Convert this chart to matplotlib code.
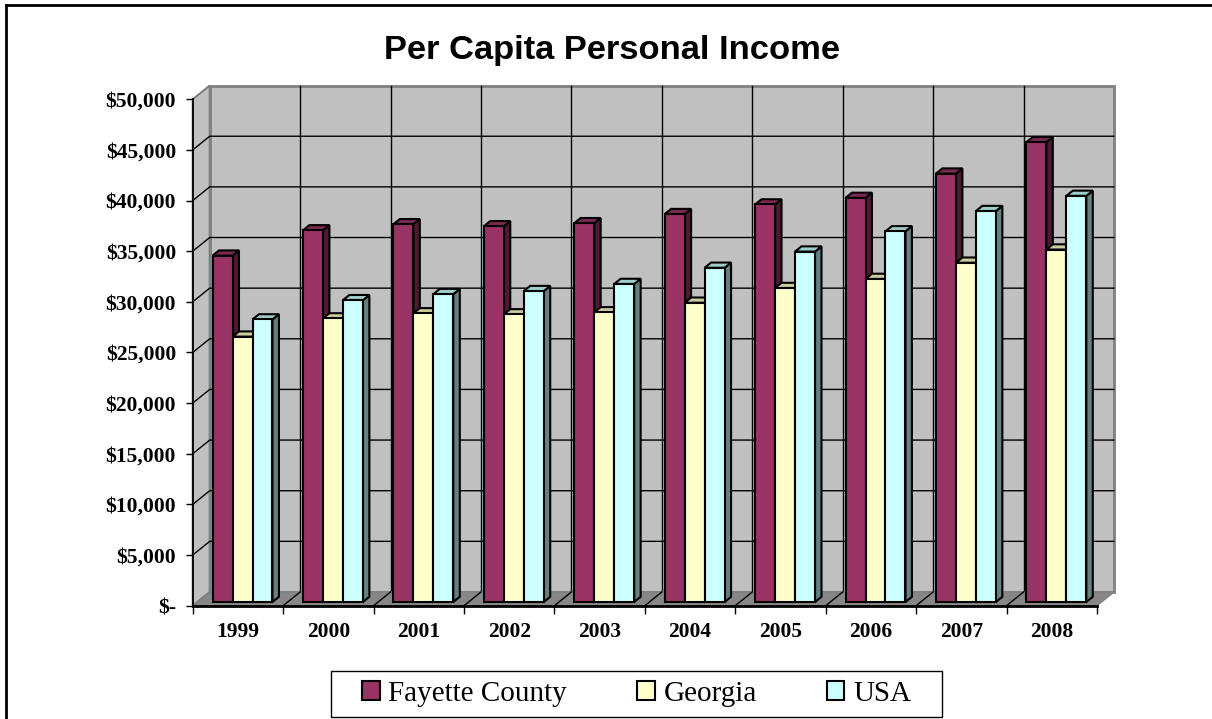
import matplotlib.pyplot as plt
from matplotlib.patches import Polygon, Patch, Rectangle
from matplotlib.lines import Line2D

years = ['1999', '2000', '2001', '2002', '2003', '2004', '2005', '2006', '2007', '2008']
fayette = [34200, 36700, 37300, 37100, 37400, 38300, 39250, 39900, 42300, 45400]
georgia = [26200, 28000, 28500, 28400, 28600, 29550, 31000, 31900, 33500, 34800]
usa = [27900, 29800, 30400, 30700, 31400, 33000, 34600, 36600, 38600, 40100]

# name, values, front / top / side colours
series = [
    ('Fayette County', fayette, '#993366', '#7a2952', '#4d1a33'),
    ('Georgia', georgia, '#ffffcc', '#cccc9f', '#80805f'),
    ('USA', usa, '#ccffff', '#9fcccc', '#668080'),
]

W, H = 1212, 719
fig = plt.figure(figsize=(W / 100, H / 100), dpi=100)
ax_box = [0.159, 0.1576, 0.7461, 0.7043]
ax = fig.add_axes(ax_box)
n = len(years)
ymax = 50000
ax.set_xlim(0, n)
ax.set_ylim(0, ymax)
ax.set_facecolor('none')

# 3d depth offset (pixels) turned into data units
depth_px = (17, 13.7)
ddx = depth_px[0] / (ax_box[2] * W / n)
ddy = depth_px[1] / (ax_box[3] * H / ymax)


def poly(pts, **kw):
    p = Polygon(pts, closed=True, clip_on=False, **kw)
    ax.add_patch(p)
    return p


# walls and floor
poly([(ddx, ddy), (n + ddx, ddy), (n + ddx, ymax + ddy), (ddx, ymax + ddy)],
     facecolor='#c0c0c0', edgecolor='#808080', lw=2, zorder=0)
poly([(0, 0), (ddx, ddy), (ddx, ymax + ddy), (0, ymax)],
     facecolor='#c0c0c0', edgecolor='#808080', lw=1.5, zorder=0)
poly([(0, 0), (n, 0), (n + ddx, ddy), (ddx, ddy)],
     facecolor='#878787', edgecolor='#808080', lw=1, zorder=0.5)

for y in range(5000, ymax, 5000):
    ax.plot([0, ddx, n + ddx], [y, y + ddy, y + ddy], color='black', lw=1,
            zorder=0.3, clip_on=False)
for i in range(1, n):
    ax.plot([i + ddx, i + ddx], [ddy, ymax + ddy], color='black', lw=1,
            zorder=0.3, clip_on=False)
    ax.plot([i, i + ddx], [0, ddy], color='black', lw=1, zorder=0.6, clip_on=False)

# bars
d0, d1 = 0.27, 0.65
bw = 0.221
gap = (1 - 3 * bw) / 2
bx, by = (d1 - d0) * ddx, (d1 - d0) * ddy
z = 1
for i in range(n):
    for j, (name, vals, cf, ct, cs) in enumerate(series):
        x0 = i + gap + j * bw + d0 * ddx
        b0 = d0 * ddy
        top = vals[i] + b0
        poly([(x0 + bw, b0), (x0 + bw + bx, b0 + by), (x0 + bw + bx, top + by), (x0 + bw, top)],
             facecolor=cs, edgecolor='black', lw=1.5, zorder=z)
        poly([(x0, top), (x0 + bw, top), (x0 + bw + bx, top + by), (x0 + bx, top + by)],
             facecolor=ct, edgecolor='black', lw=1.5, zorder=z)
        ax.bar(x0, vals[i], width=bw, bottom=b0, align='edge', color=cf,
               edgecolor='black', lw=1.5, zorder=z + 0.1, clip_on=False)
        z += 1

# axes
for s in ['top', 'right']:
    ax.spines[s].set_visible(False)
ax.spines['left'].set_linewidth(1.3)
ax.spines['bottom'].set_linewidth(2)
ax.spines['bottom'].set_zorder(0.7)

yt = list(range(0, ymax + 1, 5000))
ax.set_yticks(yt)
ax.set_yticklabels(['$-' if v == 0 else '${:,}'.format(v) for v in yt])
ax.set_xticks(range(n + 1))
ax.set_xticklabels([])
ax.set_xticks([i + 0.5 for i in range(n)], minor=True)
ax.set_xticklabels(years, minor=True)
ax.tick_params(axis='y', direction='out', length=5, width=1, pad=7)
ax.tick_params(axis='x', which='major', direction='out', length=6, width=1)
ax.tick_params(axis='x', which='minor', length=0, pad=12)
for lab in ax.get_yticklabels() + ax.get_xticklabels(minor=True):
    lab.set_fontfamily('Liberation Serif')
    lab.set_fontweight('bold')
    lab.set_fontsize(15.5)

fig.text(0.505, 0.93, 'Per Capita Personal Income', ha='center', va='center',
         fontfamily='Liberation Sans', fontweight='bold', fontsize=24.8)

handles = [Patch(facecolor=s[2], edgecolor='black', lw=1.5, label=s[0]) for s in series]
leg = fig.legend(handles=handles, loc='center', bbox_to_anchor=(636.5 / W, 1 - 694 / H), ncol=3,
                 prop={'family': 'Liberation Serif', 'size': 21}, frameon=False,
                 handlelength=0.6, handleheight=0.6,
                 handletextpad=0.3, columnspacing=2.4)
# legend box
fig.add_artist(Rectangle((331 / W, 1 - 717 / H), 611 / W, 46 / H, transform=fig.transFigure,
                         facecolor='none', edgecolor='black', lw=1))

# page border
fig.add_artist(Line2D([6 / W, 1], [1 - 5 / H, 1 - 5 / H], color='black', lw=2))
fig.add_artist(Line2D([6 / W, 6 / W], [0, 1 - 5 / H], color='black', lw=2))

fig.savefig('out.png', dpi=100)
